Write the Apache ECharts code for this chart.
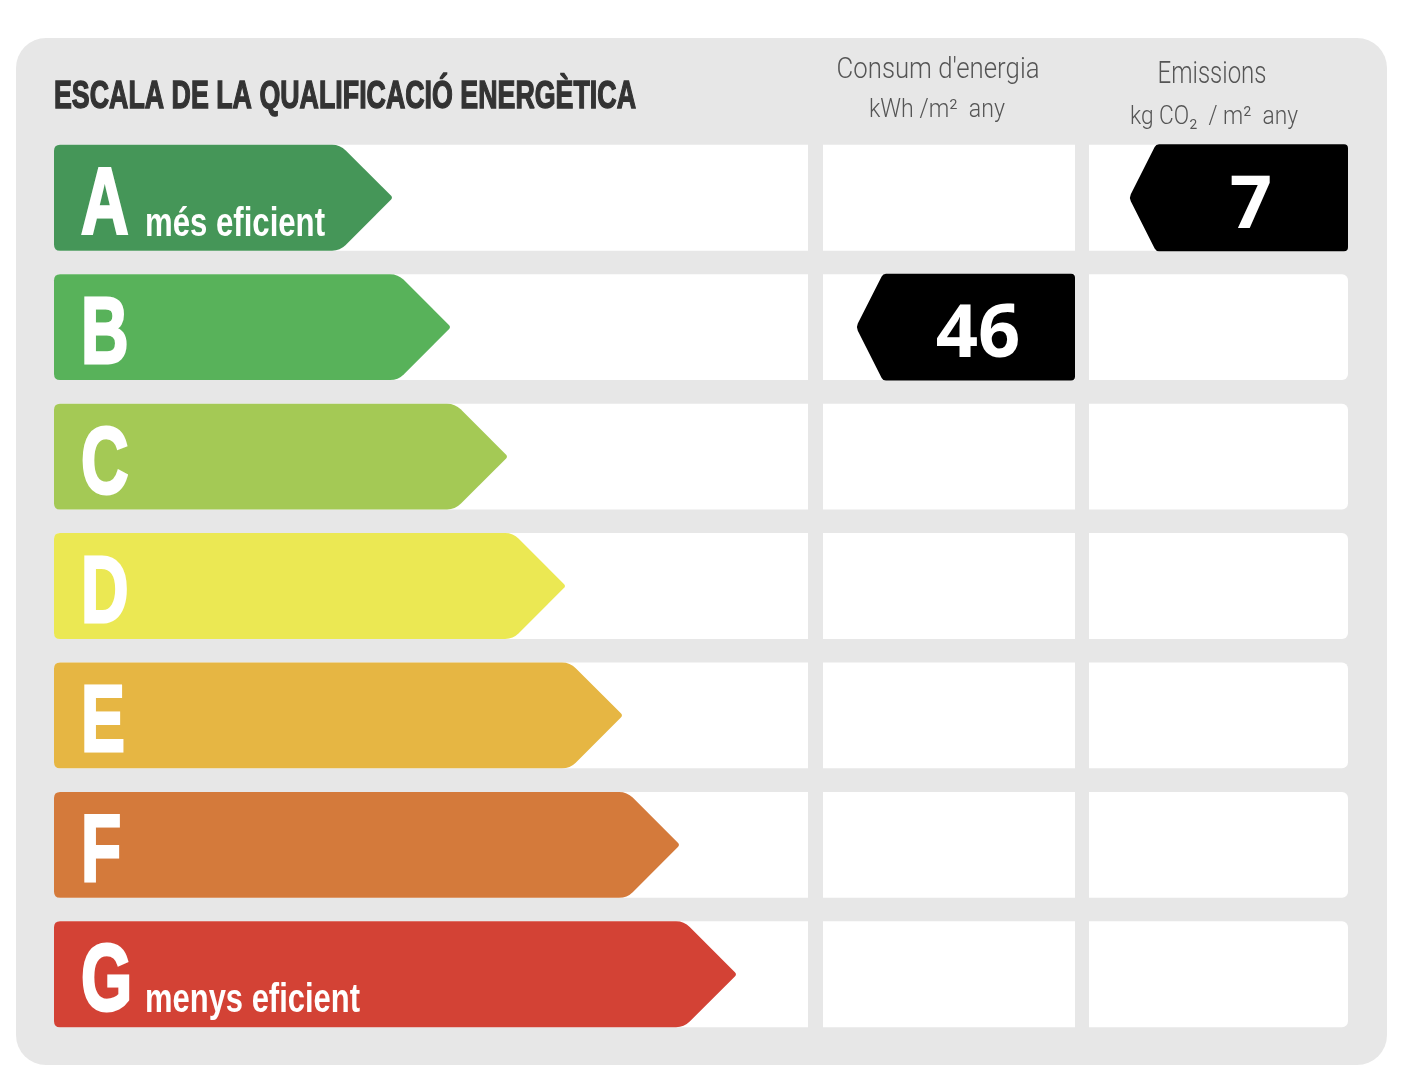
<!DOCTYPE html>
<html>
<head>
<meta charset="utf-8">
<script src="https://cdn.jsdelivr.net/npm/echarts@6/dist/echarts.min.js"></script>
<style>
  html, body { margin: 0; padding: 0; background: #fff; }
  #container { width: 1401px; height: 1089px; }
</style>
</head>
<body>
<div id="container"></div>
<script>
var classes = ['A', 'B', 'C', 'D', 'E', 'F', 'G'];
var classColors = ['#459658', '#58b25a', '#a4c955', '#ebe853', '#e6b643', '#d47a3b', '#d34235'];
var arrowLengths = [339, 397, 454, 512, 569, 626, 683];
var classNotes = ['més eficient', '', '', '', '', '', 'menys eficient'];
var columnSpans = [[0, 754], [769, 1021], [1035, 1294]];
var energyValue = 46, energyClass = 'B';
var emissionValue = 7, emissionClass = 'A';

var sans = '"Liberation Sans", Arial, sans-serif';
var light = 'Roboto, "Liberation Sans", sans-serif';
var rowRatio = 0.818;

// squeeze a text horizontally to the width it takes in the reference
var measureCtx = document.createElement('canvas').getContext('2d');
function fitScale(text, font, width) {
    measureCtx.font = font;
    return width / measureCtx.measureText(text).width;
}

function roundedPath(pts, radii) {
    var d = '';
    var n = pts.length;
    for (var i = 0; i < n; i++) {
        var r = radii[i];
        var p = pts[i], prev = pts[(i - 1 + n) % n], next = pts[(i + 1) % n];
        var dx1 = prev[0] - p[0], dy1 = prev[1] - p[1];
        var dx2 = next[0] - p[0], dy2 = next[1] - p[1];
        var l1 = Math.sqrt(dx1 * dx1 + dy1 * dy1), l2 = Math.sqrt(dx2 * dx2 + dy2 * dy2);
        var ax = p[0] + dx1 / l1 * r, ay = p[1] + dy1 / l1 * r;
        var bx = p[0] + dx2 / l2 * r, by = p[1] + dy2 / l2 * r;
        d += (i === 0 ? 'M' : 'L') + ax + ' ' + ay + ' Q' + p[0] + ' ' + p[1] + ' ' + bx + ' ' + by + ' ';
    }
    return d + 'Z';
}

function squeezedText(text, x, y, font, width, fill, align) {
    return {
        type: 'text', x: x, y: y,
        scaleX: fitScale(text, font, width),
        style: { text: text, fill: fill, font: font, align: align || 'left', verticalAlign: 'middle' }
    };
}

window.onload = function () {
    var dom = document.getElementById('container');
    var myChart = echarts.init(dom);

    var cellData = [];
    classes.forEach(function (c, i) {
        columnSpans.forEach(function (s, j) {
            cellData.push([s[0], s[1], i, j]);
        });
    });
    var arrowData = classes.map(function (c, i) {
        return [arrowLengths[i], i];
    });
    var markerData = [
        [columnSpans[1][1], classes.indexOf(energyClass), energyValue],
        [columnSpans[2][1], classes.indexOf(emissionClass), emissionValue]
    ];

    var letterFont = 'bold 94px ' + sans;
    var noteFont = 'bold 40px ' + sans;

    var titleEl = squeezedText('ESCALA DE LA QUALIFICACIÓ ENERGÈTICA', 54, 97, 'bold 39px ' + sans, 582, '#333333');
    titleEl.style.stroke = '#333333';
    titleEl.style.lineWidth = 1.4;
    var h1 = squeezedText("Consum d'energia", 938, 70, '300 30px ' + light, 203, '#555555', 'center');
    var h2 = squeezedText('kWh /m²  any', 937, 111, '300 25px ' + light, 136, '#555555', 'center');
    var h3 = squeezedText('Emissions', 1212, 75, '300 31px ' + light, 109, '#555555', 'center');
    var h4 = squeezedText('kg CO₂  / m²  any', 1214, 117, '300 26px ' + light, 168, '#555555', 'center');

    var option = {
        backgroundColor: '#ffffff',
        animation: false,
        graphic: [
            {
                type: 'rect', z: -10,
                shape: { x: 16, y: 38, width: 1371, height: 1027, r: 30 },
                style: { fill: '#e7e7e7' }
            },
            titleEl, h1, h2, h3, h4
        ],
        grid: { left: 54, right: 53, top: 133, bottom: 50 },
        xAxis: { type: 'value', min: 0, max: 1294, show: false },
        yAxis: { type: 'category', data: classes, inverse: true, show: false },
        series: [
            {
                type: 'custom',
                name: 'cells',
                data: cellData,
                encode: { x: [0, 1], y: 2 },
                renderItem: function (params, api) {
                    var a = api.coord([api.value(0), api.value(2)]);
                    var b = api.coord([api.value(1), api.value(2)]);
                    var h = api.size([0, 1])[1] * rowRatio;
                    var col = api.value(3);
                    var r = col === 2 ? [0, 6, 6, 0] : (col === 0 ? [6, 0, 0, 6] : 0);
                    return {
                        type: 'rect',
                        shape: { x: a[0], y: a[1] - h / 2, width: b[0] - a[0], height: h, r: r },
                        style: { fill: '#ffffff' }
                    };
                }
            },
            {
                type: 'custom',
                name: 'classes',
                data: arrowData,
                encode: { x: 0, y: 1 },
                renderItem: function (params, api) {
                    var i = api.value(1);
                    var p0 = api.coord([0, i]);
                    var p1 = api.coord([api.value(0), i]);
                    var h = api.size([0, 1])[1] * rowRatio;
                    var top = p0[1] - h / 2, bot = p0[1] + h / 2;
                    var x0 = p0[0], xt = p1[0], xb = xt - h / 2;
                    var pts = [[x0, top], [xb, top], [xt, p0[1]], [xb, bot], [x0, bot]];
                    var children = [
                        {
                            type: 'path',
                            shape: { pathData: roundedPath(pts, [6, 8, 3, 8, 6]) },
                            style: { fill: classColors[i] }
                        }
                    ];
                    var letter = squeezedText(classes[i], x0 + 27, top + 63, letterFont, 1, '#ffffff');
                    letter.scaleX = 0.7;
                    letter.style.stroke = '#ffffff';
                    letter.style.lineWidth = 3;
                    letter.style.lineJoin = 'round';
                    children.push(letter);
                    if (classNotes[i]) {
                        var w = i === 0 ? 180 : 215;
                        children.push(squeezedText(classNotes[i], x0 + 91, top + 80, noteFont, w, '#ffffff'));
                    }
                    return { type: 'group', children: children };
                }
            },
            {
                type: 'custom',
                name: 'values',
                data: markerData,
                encode: { x: 0, y: 1 },
                renderItem: function (params, api) {
                    var i = api.value(1);
                    var p = api.coord([api.value(0), i]);
                    var h = api.size([0, 1])[1] * rowRatio + 1;
                    var top = p[1] - h / 2, bot = p[1] + h / 2;
                    var xr = p[0], xl = xr - 219, xf = xl + 27;
                    var pts = [[xf, top], [xr, top], [xr, bot], [xf, bot], [xl, p[1]]];
                    return {
                        type: 'group',
                        children: [
                            {
                                type: 'path',
                                shape: { pathData: roundedPath(pts, [3, 4, 4, 3, 4]) },
                                style: { fill: '#000000' }
                            },
                            {
                                type: 'text',
                                x: (xf + xr) / 2 - 1, y: p[1] + 9,
                                style: { text: String(api.value(2)), fill: '#ffffff', align: 'center',
                                    verticalAlign: 'middle', font: 'bold 74px "Open Sans", "Noto Sans", sans-serif' }
                            }
                        ]
                    };
                }
            }
        ]
    };
    myChart.setOption(option);
};
</script>
</body>
</html>
